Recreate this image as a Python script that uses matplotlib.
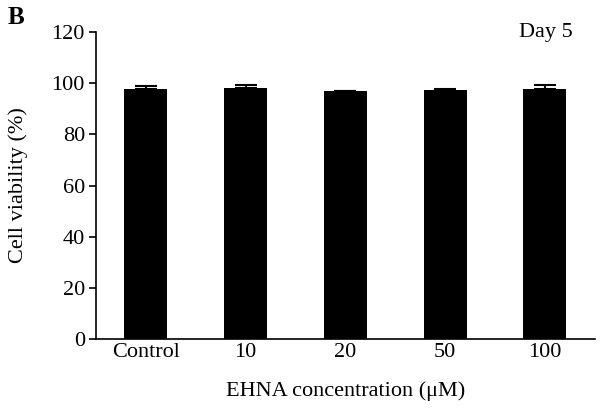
import matplotlib.pyplot as plt

# data
groups = ['Control', '10', '20', '50', '100']
viability = [97.7, 98.0, 96.8, 97.3, 97.6]
err = [1.1, 1.4, 0.0, 0.5, 1.7]

plt.rcParams['font.family'] = ['Liberation Serif', 'DejaVu Serif']

fig = plt.figure(figsize=(6.02, 4.13), dpi=100)
ax = fig.add_axes([0.1595, 0.179, 0.8285, 0.7435])

x = range(len(groups))
ax.bar(x, viability, width=0.43, color='black', zorder=2)
ax.errorbar(x, viability, yerr=[[0] * len(err), err], fmt='none',
            ecolor='black', elinewidth=1.5, capsize=8, capthick=1.5, zorder=1)

ax.set_xlim(-0.5, 4.5)
ax.set_ylim(0, 120)
ax.set_yticks(range(0, 121, 20))
ax.set_xticks(list(x))
ax.set_xticklabels(groups)
ax.tick_params(axis='x', length=0, pad=3, labelsize=16)
ax.tick_params(axis='y', length=5, width=1.2, pad=3, labelsize=16)

for s in ['top', 'right']:
    ax.spines[s].set_visible(False)
for s in ['left', 'bottom']:
    ax.spines[s].set_linewidth(1.2)

ax.set_ylabel('Cell viability (%)', fontsize=16, labelpad=17)
ax.set_xlabel('EHNA concentration (\u03bcM)', fontsize=16, labelpad=14)

ax.text(0.956, 1.0, 'Day 5', transform=ax.transAxes, fontsize=16,
        ha='right', va='center')
fig.text(0.012, 0.985, 'B', fontsize=18, fontweight='bold', va='top')

fig.savefig('out.png', dpi=100)
